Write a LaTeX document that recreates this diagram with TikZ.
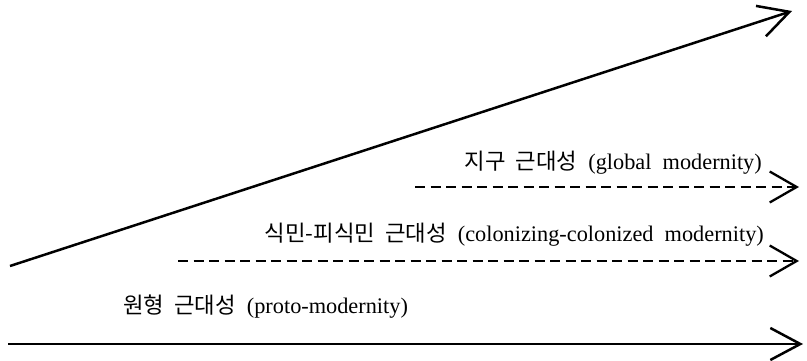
\documentclass[tikz,border=0pt]{standalone}
\usepackage{fontspec}
\setmainfont{Liberation Serif}
\newfontfamily\kr{Noto Sans CJK KR}
\usetikzlibrary{arrows.meta}
\tikzset{
  solidarrow/.style={line width=2.5pt,-{Straight Barb[length=30pt,width=32pt,line width=2.5pt]}},
  dasharrow/.style={line width=2.2pt,dash pattern=on 10pt off 5.5pt,-{Straight Barb[length=27pt,width=31pt,line width=2.3pt,sep=0pt]}},
  lbl/.style={inner sep=0pt,font=\fontsize{22.3pt}{26pt}\selectfont}
}
\begin{document}
\begin{tikzpicture}[x=1pt,y=-1pt]
\useasboundingbox (0,0) rectangle (807,361);
\coordinate (d0) at (10,266);
\coordinate (d1) at (792,11);
\coordinate (g0) at (415,187);
\coordinate (g1) at (799,187);
\coordinate (c0) at (178,261);
\coordinate (c1) at (799,261);
\coordinate (p0) at (8,344);
\coordinate (p1) at (803,344);
\draw[solidarrow] (d0) -- (d1);
\draw[dasharrow] (g0) -- (g1);
\draw[dasharrow] (c0) -- (c1);
\draw[solidarrow] (p0) -- (p1);
\node[lbl,anchor=east] (gl) at (762,163) {{\kr 지구\ \ 근대성}\ \ (global\ \ modernity)};
\node[lbl,anchor=east] (cl) at (764,235) {{\kr 식민-피식민\ \ 근대성}\ \ (colonizing-colonized\ \ modernity)};
\node[lbl,anchor=west] (pl) at (123,307) {{\kr 원형\ \ 근대성}\ \ (proto-modernity)};
\end{tikzpicture}
\end{document}
